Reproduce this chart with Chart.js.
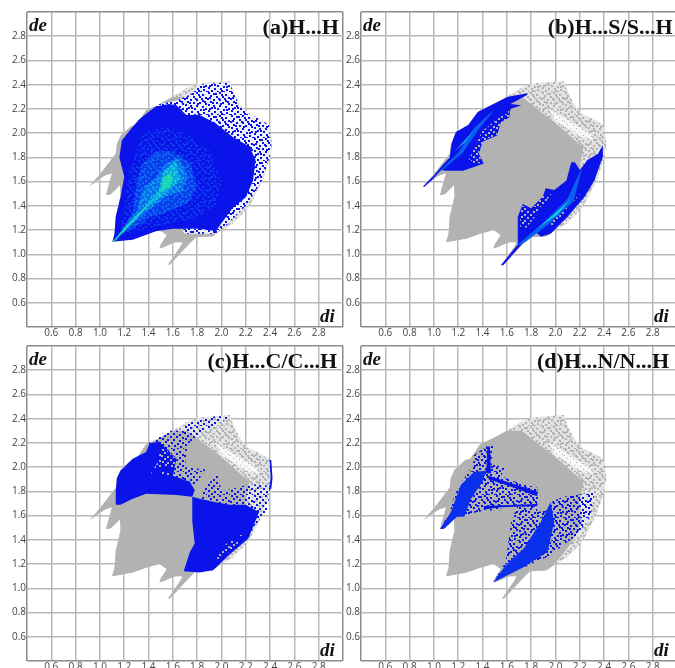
<!DOCTYPE html>
<html>
<head>
<meta charset="utf-8">
<script src="https://cdn.jsdelivr.net/npm/chart.js@4"></script>
<style>
  html, body { margin: 0; padding: 0; background: #fff; overflow: hidden; }
  #page { position: relative; width: 675px; height: 668px; overflow: hidden; }
  .panel { position: absolute; width: 342px; height: 345px; }
  canvas { position: absolute; left: 0; top: 0; filter: blur(0.45px); }
  .axis { position: absolute; font: italic bold 19px "Liberation Serif", serif; color: #111; }
  .name { position: absolute; font: bold 22px "Liberation Serif", serif; color: #111; white-space: nowrap; }
</style>
</head>
<body>
<div id="page"></div>
<script>
// axis ticks
const tickValues = [0.6, 0.8, 1.0, 1.2, 1.4, 1.6, 1.8, 2.0, 2.2, 2.4, 2.6, 2.8];

// grey background of all four plots, [di, de]
const allContacts = [[1.10,1.10],[1.12,1.17],[1.13,1.31],[1.17,1.48],[1.165,1.57],[1.09,1.495],[1.05,1.49],[1.08,1.60],[1.10,1.67],[1.04,1.65],[0.91,1.56],[0.93,1.58],[1.00,1.66],[1.13,1.83],[1.14,1.91],[1.17,1.98],[1.26,2.06],[1.30,2.07],[1.38,2.19],[1.49,2.24],[1.60,2.30],[1.71,2.37],[1.82,2.41],[2.07,2.43],[2.09,2.37],[2.15,2.24],[2.22,2.16],[2.34,2.10],[2.40,2.06],[2.42,1.91],[2.40,1.80],[2.34,1.61],[2.22,1.38],[2.09,1.25],[1.97,1.18],[1.93,1.15],[1.79,1.14],[1.73,1.08],[1.58,0.92],[1.56,0.91],[1.57,0.93],[1.66,1.06],[1.68,1.10],[1.62,1.10],[1.50,1.05],[1.49,1.05],[1.50,1.08],[1.55,1.16],[1.49,1.20],[1.38,1.17],[1.27,1.13],[1.16,1.11]];
const solidContacts = [[1.10,1.10],[1.12,1.17],[1.13,1.31],[1.17,1.48],[1.165,1.57],[1.09,1.495],[1.05,1.49],[1.08,1.60],[1.10,1.67],[1.04,1.65],[0.91,1.56],[0.93,1.58],[1.00,1.66],[1.13,1.83],[1.14,1.91],[1.17,1.98],[1.26,2.06],[1.30,2.07],[1.38,2.19],[1.49,2.24],[1.60,2.30],[1.72,2.30],[1.80,2.24],[1.95,2.12],[2.05,2.04],[2.15,1.95],[2.23,1.88],[2.20,1.72],[2.22,1.55],[2.15,1.40],[2.05,1.27],[1.97,1.18],[1.93,1.15],[1.79,1.14],[1.73,1.08],[1.58,0.92],[1.56,0.91],[1.57,0.93],[1.66,1.06],[1.68,1.10],[1.62,1.10],[1.50,1.05],[1.49,1.05],[1.50,1.08],[1.55,1.16],[1.49,1.20],[1.38,1.17],[1.27,1.13],[1.16,1.11]];
const emptyBand = [[1.95,2.20],[2.05,2.14],[2.28,2.00],[2.32,1.94],[2.20,1.97],[2.00,2.10]];

// (a) H...H
const hhSparse = [[1.45,2.23],[1.63,2.27],[1.75,2.32],[1.83,2.40],[2.07,2.42],[2.09,2.35],[2.15,2.22],[2.25,2.15],[2.39,2.07],[2.41,1.85],[2.33,1.60],[2.20,1.40],[2.05,1.25],[1.95,1.17],[1.70,1.17],[1.60,1.30]];
const hhDense = [[1.105,1.105],[1.12,1.17],[1.13,1.31],[1.17,1.475],[1.20,1.64],[1.16,1.80],[1.18,1.94],[1.26,2.04],[1.32,2.11],[1.38,2.16],[1.46,2.22],[1.57,2.24],[1.63,2.23],[1.71,2.15],[1.82,2.15],[1.955,2.08],[2.09,1.97],[2.23,1.89],[2.28,1.78],[2.26,1.61],[2.20,1.47],[2.09,1.38],[1.98,1.23],[1.955,1.19],[1.82,1.21],[1.60,1.21],[1.46,1.19],[1.27,1.12],[1.16,1.11]];
const hhLevel1 = [[1.15,1.15],[1.20,1.35],[1.22,1.60],[1.28,1.80],[1.35,2.00],[1.55,2.05],[1.70,2.00],[1.90,1.85],[2.00,1.60],[1.95,1.40],[1.80,1.30],[1.55,1.25],[1.35,1.20]];
const hhLevel2 = [[1.16,1.16],[1.27,1.35],[1.30,1.60],[1.35,1.75],[1.45,1.85],[1.60,1.85],[1.75,1.75],[1.80,1.55],[1.72,1.42],[1.55,1.35],[1.40,1.30],[1.28,1.22]];
const hhLevel3 = [[1.18,1.20],[1.30,1.35],[1.36,1.55],[1.45,1.62],[1.55,1.75],[1.65,1.80],[1.72,1.65],[1.68,1.52],[1.55,1.48],[1.42,1.38],[1.30,1.28]];
const hhLevel4 = [[1.35,1.37],[1.48,1.52],[1.52,1.68],[1.62,1.77],[1.66,1.62],[1.60,1.56],[1.50,1.47]];
const hhLevel5 = [[1.50,1.53],[1.52,1.62],[1.58,1.68],[1.60,1.62],[1.57,1.55]];
const hhDiagonal = [[1.105,1.105],[1.20,1.22],[1.35,1.37],[1.50,1.52],[1.38,1.38],[1.22,1.21],[1.115,1.10]];

// (b) H...S/S...H
const hsUpper = [[0.91,1.56],[1.00,1.65],[1.07,1.735],[1.13,1.80],[1.145,1.91],[1.18,2.01],[1.28,2.065],[1.36,2.175],[1.47,2.23],[1.61,2.30],[1.77,2.33],[1.76,2.31],[1.63,2.24],[1.72,2.23],[1.63,2.20],[1.62,2.13],[1.55,2.09],[1.52,1.98],[1.40,1.93],[1.37,1.83],[1.41,1.75],[1.33,1.72],[1.24,1.69],[1.10,1.69],[1.06,1.695],[0.98,1.61],[0.92,1.555]];
const hsLower = [[1.55,0.91],[1.69,1.08],[1.69,1.31],[1.73,1.415],[1.80,1.38],[1.895,1.475],[1.92,1.545],[1.99,1.53],[2.09,1.61],[2.13,1.76],[2.16,1.76],[2.20,1.695],[2.265,1.78],[2.35,1.83],[2.39,1.90],[2.39,1.805],[2.32,1.61],[2.24,1.475],[2.10,1.31],[1.96,1.17],[1.88,1.145],[1.83,1.19],[1.72,1.08],[1.57,0.91]];
const hsUpperGaps = [[1.28,1.76],[1.40,1.75],[1.37,1.84],[1.40,1.93],[1.52,1.98],[1.55,2.09],[1.62,2.13],[1.62,2.20],[1.50,2.10],[1.40,2.02],[1.33,1.88]];
const hsLowerGaps = [[1.71,1.22],[1.71,1.41],[1.80,1.37],[1.88,1.47],[1.98,1.52],[1.88,1.37],[1.76,1.22]];
const hsEdgeGaps = [[1.88,1.20],[1.98,1.24],[2.08,1.35],[2.22,1.52],[2.12,1.46],[2.00,1.32]];
const hsUpperStreak = [[1.02,1.66],[1.20,1.84],[1.33,2.04],[1.50,2.20],[1.36,2.02],[1.24,1.84],[1.10,1.72]];
const hsLowerStreak = [[1.68,1.07],[1.90,1.26],[2.10,1.46],[2.22,1.72],[2.15,1.44],[1.96,1.26],[1.75,1.10]];
const hsUpperCore = [[1.17,1.85],[1.27,1.96],[1.33,2.03],[1.26,1.93]];
const hsLowerCore = [[1.85,1.21],[2.02,1.36],[2.13,1.46],[2.02,1.33]];

// (c) H...C/C...H
const hcUpperDense = [[1.13,1.69],[1.13,1.80],[1.14,1.91],[1.17,1.97],[1.27,2.07],[1.38,2.125],[1.41,2.20],[1.49,2.21],[1.63,2.07],[1.60,1.93],[1.74,1.88],[1.78,1.81],[1.76,1.755],[1.63,1.77],[1.38,1.78],[1.27,1.74],[1.17,1.69]];
const hcUpperSparse = [[1.40,2.20],[1.55,2.30],[1.65,2.30],[1.75,2.37],[1.95,2.42],[2.08,2.42],[1.92,2.33],[1.80,2.25],[1.72,2.18],[1.70,2.00],[1.87,1.98],[1.78,1.85],[1.60,1.90]];
const hcLowerDense = [[1.76,1.755],[1.76,1.55],[1.78,1.37],[1.74,1.30],[1.69,1.14],[1.82,1.13],[1.93,1.15],[2.09,1.30],[2.22,1.41],[2.31,1.63],[2.20,1.69],[2.065,1.69],[1.955,1.71],[1.82,1.74]];
const hcLowerSparse = [[1.82,1.74],[1.88,1.85],[1.97,1.95],[2.00,1.80],[2.20,1.85],[2.35,1.86],[2.40,1.82],[2.38,1.65],[2.30,1.55],[2.20,1.40],[2.00,1.40]];
const hcEdge = [[2.395,2.06],[2.41,2.06],[2.42,1.91],[2.41,1.82],[2.39,1.82],[2.405,1.91]];
const hcUpperGaps = [[1.42,1.95],[1.60,1.93],[1.63,2.07],[1.50,2.18],[1.48,2.05]];
const hcLowerGaps = [[1.95,1.22],[2.09,1.32],[2.20,1.44],[2.10,1.44],[2.00,1.32]];

// (d) H...N/N...H
const hnUpperSparse = [[1.05,1.49],[1.13,1.63],[1.17,1.77],[1.21,1.85],[1.32,2.015],[1.33,2.10],[1.43,2.17],[1.50,2.19],[1.47,2.03],[1.59,1.99],[1.55,1.93],[1.66,1.88],[1.85,1.82],[1.85,1.69],[1.69,1.69],[1.565,1.685],[1.55,1.645],[1.41,1.64],[1.19,1.59],[1.08,1.49]];
const hnUpperDense = [[1.05,1.49],[1.14,1.63],[1.22,1.85],[1.33,1.96],[1.43,1.97],[1.40,1.88],[1.305,1.74],[1.25,1.59],[1.19,1.59],[1.08,1.49]];
const hnLowerSparse = [[1.49,1.05],[1.59,1.22],[1.635,1.55],[1.69,1.685],[1.85,1.69],[1.85,1.63],[1.94,1.645],[1.96,1.71],[2.06,1.755],[2.32,1.79],[2.29,1.60],[2.18,1.44],[1.99,1.30],[1.935,1.26],[1.72,1.165]];
const hnLowerDense = [[1.49,1.05],[1.59,1.19],[1.74,1.33],[1.88,1.55],[1.96,1.71],[1.99,1.55],[1.935,1.30],[1.72,1.165]];
const hnWebWide = [[1.45,1.95],[1.60,1.90],[1.85,1.83],[1.86,1.72],[1.60,1.82],[1.45,1.88]];
const hnWeb = [[1.45,1.93],[1.60,1.88],[1.85,1.80],[1.85,1.76],[1.60,1.85],[1.45,1.90]];
const hnSpike = [[1.43,1.95],[1.44,2.17],[1.46,2.17],[1.47,1.95]];
const hnFloor = [[1.41,1.65],[1.41,1.68],[1.85,1.695],[1.85,1.68],[1.55,1.67]];

const GREY = '#b2b2b2';
const BLUE = '#0a14ea';

// hand placed dots for the speckled parts of the plots
const tileDots = [[1,0],[6,1],[12,0],[18,2],[3,3],[9,4],[15,4],[21,5],[0,6],[6,7],[12,7],[18,8],[3,9],[9,10],[15,10],[21,11],[1,12],[6,13],[12,13],[18,14],[4,15],[10,16],[16,17],[21,16],[1,18],[7,19],[13,19],[19,20],[4,21],[10,22],[16,22],[22,22],[8,1],[14,2],[2,5],[11,6],[17,6],[5,10],[20,9],[13,11],[7,15],[2,16],[19,17],[14,21],[0,22]];

function speckle(color, size, count, under) {
  const c = document.createElement('canvas');
  c.width = 23;
  c.height = 23;
  const g = c.getContext('2d');
  if (under) {
    g.fillStyle = under;
    g.fillRect(0, 0, 23, 23);
  }
  g.fillStyle = color;
  tileDots.slice(0, count).forEach(d => g.fillRect(d[0], d[1], size, size));
  return g.createPattern(c, 'repeat');
}

const greySpeckle = speckle(GREY, 2, 45, '#e2e2e2');
const bandSpeckle = speckle(GREY, 1, 32, '#f7f7f7');
const blueSpeckle = speckle(BLUE, 2, 32);
const blueThick = speckle(BLUE, 2, 45);

const C1 = '#0a3cee';
const C2 = '#0a6cf0';
const C3 = '#0ea2ea';
const C4 = '#14d4cc';
const C5 = '#28e47c';

// fill = shape so the closed outline is filled through the scales
function region(points, color) {
  return {
    data: points.map(p => ({ x: p[0], y: p[1] })),
    showLine: true,
    fill: 'shape',
    backgroundColor: color,
    borderColor: 'transparent',
    borderWidth: 0,
    pointRadius: 0,
    pointHitRadius: 0,
    tension: 0
  };
}

function base() {
  return [region(allContacts, greySpeckle), region(emptyBand, bandSpeckle), region(solidContacts, GREY)];
}

const panels = [
  {
    x: 0, y: 0, name: '(a)H...H', right: 3,
    sets: base().concat([
      region(hhSparse, speckle(BLUE, 2, 45, '#eef0fc')),
      region(hhDense, BLUE),
      region(hhLevel1, speckle(C1, 2, 45, BLUE)),
      region(hhLevel2, speckle(C2, 2, 45, C1)),
      region(hhLevel3, speckle(C3, 2, 45, C2)),
      region(hhLevel4, speckle(C4, 2, 45, C3)),
      region(hhDiagonal, C4),
      region(hhLevel5, speckle(C5, 2, 45, C4))
    ])
  },
  {
    x: 334, y: 0, name: '(b)H...S/S...H', right: 3.5,
    sets: base().concat([
      region(hsUpper, BLUE),
      region(hsLower, BLUE),
      region(hsUpperGaps, speckle(GREY, 2, 32)),
      region(hsLowerGaps, speckle(GREY, 2, 32)),
      region(hsEdgeGaps, speckle(GREY, 2, 24)),
      region(hsUpperStreak, '#0a60f0'),
      region(hsLowerStreak, '#0a60f0'),
      region(hsUpperCore, '#14b4e8'),
      region(hsLowerCore, '#14c8e0')
    ])
  },
  {
    x: 0, y: 334, name: '(c)H...C/C...H', right: 5,
    sets: base().concat([
      region(hcUpperSparse, blueSpeckle),
      region(hcLowerSparse, blueSpeckle),
      region(hcUpperDense, BLUE),
      region(hcLowerDense, BLUE),
      region(hcEdge, BLUE),
      region(hcUpperGaps, speckle(GREY, 2, 24)),
      region(hcLowerGaps, speckle(GREY, 2, 24))
    ])
  },
  {
    x: 334, y: 334, name: '(d)H...N/N...H', right: 7,
    sets: base().concat([
      region(hnUpperSparse, blueThick),
      region(hnLowerSparse, blueThick),
      region(hnUpperDense, '#0a30ee'),
      region(hnLowerDense, '#0a30ee'),
      region(hnWebWide, blueThick),
      region(hnWeb, BLUE),
      region(hnSpike, BLUE),
      region(hnFloor, BLUE)
    ])
  }
];

const isEdge = v => Math.abs(v - 0.4) < 0.01 || Math.abs(v - 3.0) < 0.01;
const tickLabel = v => tickValues.some(t => Math.abs(t - v) < 0.01) ? Number(v).toFixed(1) : '';

function axis(extra) {
  return Object.assign({
    type: 'linear',
    min: 0.4,
    max: 3.0,
    grid: {
      drawTicks: false,
      lineWidth: 1.5,
      color: c => isEdge(c.tick.value) ? '#8c8c8c' : '#b9b9b9'
    },
    border: { display: false }
  }, extra);
}

panels.forEach(p => {
  const box = document.createElement('div');
  box.className = 'panel';
  box.style.left = p.x + 'px';
  box.style.top = p.y + 'px';
  const cv = document.createElement('canvas');
  cv.width = 344;
  cv.height = 345;
  box.appendChild(cv);

  const de = document.createElement('div');
  de.className = 'axis';
  de.style.left = '29px';
  de.style.top = '14px';
  de.textContent = 'de';
  box.appendChild(de);

  const di = document.createElement('div');
  di.className = 'axis';
  di.style.left = '320px';
  di.style.top = '305px';
  di.textContent = 'di';
  box.appendChild(di);

  const nm = document.createElement('div');
  nm.className = 'name';
  nm.style.right = p.right + 'px';
  nm.style.top = '14px';
  nm.textContent = p.name;
  box.appendChild(nm);

  document.getElementById('page').appendChild(box);

  // chart.js paints the first dataset last, the lists above run bottom to top
  new Chart(cv.getContext('2d'), {
    type: 'scatter',
    data: { datasets: p.sets.slice().reverse() },
    options: {
      responsive: false,
      animation: false,
      layout: { padding: { top: 12, right: 1, left: 0, bottom: 0 } },
      plugins: { legend: { display: false }, tooltip: { enabled: false } },
      scales: {
        x: axis({
          afterFit: s => { s.height = 345 - 12 - 315; },
          ticks: {
            stepSize: 0.2,
            autoSkip: false,
            maxRotation: 0,
            padding: 0,
            color: '#444',
            font: { family: 'Open Sans', size: 10 },
            callback: tickLabel
          }
        }),
        y: axis({
          afterFit: s => { s.width = 27; },
          ticks: {
            stepSize: 0.2,
            autoSkip: false,
            padding: 1,
            color: '#444',
            font: { family: 'Open Sans', size: 10 },
            callback: tickLabel
          }
        })
      }
    }
  });
});
</script>
</body>
</html>
